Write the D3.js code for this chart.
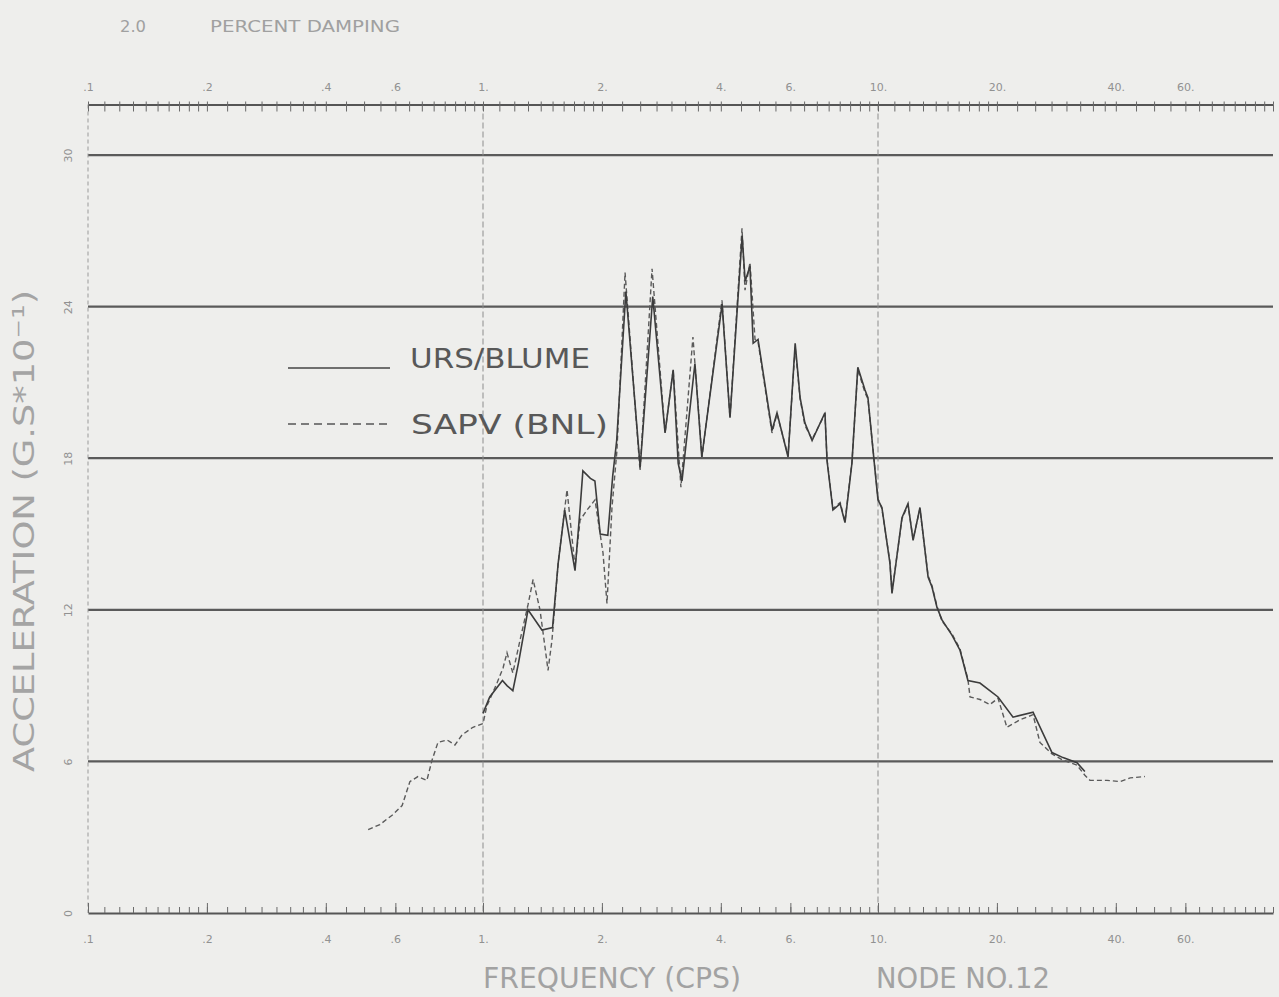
<!DOCTYPE html>
<html>
<head>
<meta charset="utf-8">
<script src="https://cdn.jsdelivr.net/npm/d3@7"></script>
<style>
  html, body { margin: 0; padding: 0; background: #eeeeec; }
  svg { display: block; }
  text { font-family: "DejaVu Sans", "Liberation Sans", sans-serif; }
</style>
</head>
<body>
<svg id="chart" width="1279" height="997"></svg>
<script>
// Response spectrum, 2.0 percent damping, node no. 12
// [frequency (cps), acceleration (g * 10^-1)]
const ursBlume = [
  [1.00, 7.9], [1.04, 8.55], [1.12, 9.2], [1.15, 9.0], [1.19, 8.8], [1.23, 9.9],
  [1.30, 12.0], [1.41, 11.2], [1.50, 11.3], [1.55, 13.85], [1.61, 15.95], [1.71, 13.55],
  [1.76, 15.95], [1.79, 17.5], [1.87, 17.2], [1.92, 17.1], [1.98, 15.0], [2.07, 14.95],
  [2.13, 17.3], [2.18, 18.7], [2.30, 24.6], [2.50, 17.65], [2.69, 24.4], [2.89, 19.0],
  [3.03, 21.5], [3.12, 17.8], [3.19, 17.1], [3.44, 21.75], [3.58, 18.05], [4.03, 24.1],
  [4.22, 19.6], [4.53, 26.8], [4.61, 25.0], [4.74, 25.6], [4.83, 22.55], [4.97, 22.7],
  [5.39, 19.1], [5.55, 19.8], [5.92, 18.05], [6.17, 22.55], [6.35, 20.4], [6.53, 19.4],
  [6.81, 18.7], [7.34, 19.8], [7.43, 17.9], [7.69, 15.95], [8.02, 16.2], [8.25, 15.45],
  [8.59, 17.8], [8.89, 21.6], [9.27, 20.7], [9.43, 20.4], [9.83, 17.5], [10.0, 16.35],
  [10.23, 16.05], [10.72, 13.85], [10.85, 12.65], [11.5, 15.65], [11.91, 16.2], [12.27, 14.75],
  [12.77, 16.05], [13.39, 13.3], [13.7, 12.9], [14.1, 12.1], [14.52, 11.6], [15.39, 11.0],
  [16.13, 10.4], [16.89, 9.2], [18.12, 9.1], [20.13, 8.55], [21.97, 7.75], [24.69, 7.95],
  [27.57, 6.35], [29.4, 6.15], [31.9, 5.95], [33.4, 5.6]
];

const sapvBnl = [
  [0.512, 3.3], [0.548, 3.5], [0.592, 3.9], [0.624, 4.25], [0.653, 5.2], [0.684, 5.4],
  [0.721, 5.25], [0.743, 6.05], [0.769, 6.75], [0.811, 6.85], [0.849, 6.65], [0.885, 7.05],
  [0.943, 7.35], [1.0, 7.5], [1.023, 8.2], [1.085, 9.1], [1.124, 9.7], [1.15, 10.3],
  [1.19, 9.5], [1.241, 10.8], [1.30, 12.2], [1.339, 13.2], [1.394, 12.0], [1.436, 10.5],
  [1.461, 9.6], [1.495, 10.8], [1.549, 13.8], [1.632, 16.75], [1.71, 13.7], [1.761, 15.55],
  [1.834, 15.95], [1.921, 16.35], [2.013, 14.25], [2.06, 12.25], [2.121, 16.05], [2.183, 18.3],
  [2.289, 25.35], [2.498, 17.5], [2.679, 25.5], [2.89, 19.0], [3.03, 21.5], [3.17, 16.85],
  [3.40, 22.8], [3.584, 18.05], [4.027, 24.25], [4.22, 19.6], [4.526, 27.1], [4.606, 24.65],
  [4.742, 25.75], [4.883, 22.7], [4.97, 22.6], [5.39, 19.0], [5.55, 19.75], [5.92, 18.1],
  [6.17, 22.4], [6.35, 20.35], [6.53, 19.3], [6.81, 18.75], [7.34, 19.75], [7.43, 17.95],
  [7.69, 16.0], [8.02, 16.25], [8.25, 15.5], [8.59, 17.85], [8.89, 21.5], [9.27, 20.6],
  [9.43, 20.35], [9.83, 17.55], [10.0, 16.4], [10.23, 16.0], [10.72, 13.9], [10.85, 12.7],
  [11.5, 15.6], [11.91, 16.15], [12.27, 14.8], [12.77, 16.0], [13.39, 13.35], [13.7, 12.95],
  [14.1, 12.15], [14.52, 11.55], [15.39, 11.05], [16.13, 10.45], [16.89, 9.25], [17.1, 8.55],
  [18.12, 8.45], [19.2, 8.25], [20.13, 8.5], [21.2, 7.35], [22.9, 7.65], [24.69, 7.85],
  [25.7, 6.75], [27.57, 6.3], [29.4, 6.05], [31.9, 5.85], [33.4, 5.45], [34.4, 5.25],
  [38.0, 5.25], [41.0, 5.2], [43.5, 5.35], [47.4, 5.4]
];

const freqLabelValues = [0.1, 0.2, 0.4, 0.6, 1, 2, 4, 6, 10, 20, 40, 60];
const freqLabels = [".1", ".2", ".4", ".6", "1.", "2.", "4.", "6.", "10.", "20.", "40.", "60."];
const accTicks = [0, 6, 12, 18, 24, 30];
const accGrid = [6, 12, 18, 24, 30];
const seriesNames = ["URS/BLUME", "SAPV (BNL)"];

const svg = d3.select("#chart");

const x = d3.scaleLog().domain([0.1, 100]).range([88, 1273]);
const y = d3.scaleLinear().domain([0, 32]).range([913, 104.5]);

// fine log-cycle tick marks along the frequency axes
const minorTicks = [];
[0.1, 1, 10].forEach(d => {
  for (let m = 1; m < 2; m += 0.1) minorTicks.push(+(d * m).toFixed(4));
  for (let m = 2; m < 4; m += 0.25) minorTicks.push(+(d * m).toFixed(4));
  for (let m = 4; m < 10; m += 0.5) minorTicks.push(+(d * m).toFixed(4));
});
minorTicks.push(100);

const labelFmt = v => freqLabels[freqLabelValues.indexOf(v)];

// horizontal grid lines
svg.append("g")
  .selectAll("line")
  .data(accGrid)
  .join("line")
  .attr("x1", x(0.1)).attr("x2", x(100))
  .attr("y1", d => y(d)).attr("y2", d => y(d))
  .attr("stroke", "#5a5a5a").attr("stroke-width", 2.2);

// vertical grid at 1 and 10 cps
svg.append("g")
  .selectAll("line")
  .data([1, 10])
  .join("line")
  .attr("x1", d => x(d)).attr("x2", d => x(d))
  .attr("y1", y(32)).attr("y2", y(0))
  .attr("stroke", "#8c8c8c").attr("stroke-width", 1)
  .attr("stroke-dasharray", "6,3");

// left frame edge
svg.append("line")
  .attr("x1", x(0.1)).attr("x2", x(0.1))
  .attr("y1", y(32)).attr("y2", y(0))
  .attr("stroke", "#9a9a9a").attr("stroke-width", 1)
  .attr("stroke-dasharray", "4,3");

function styleAxis(g) {
  g.selectAll(".domain").attr("stroke", "#555").attr("stroke-width", 2);
  g.selectAll(".tick line").attr("stroke", "#6a6a6a").attr("stroke-width", 1);
}

// bottom frequency axis
const gBottom = svg.append("g").attr("transform", `translate(0,${y(0)})`);
gBottom.append("g").call(d3.axisTop(x).tickValues(minorTicks).tickSize(6).tickSizeOuter(0).tickFormat("")).call(styleAxis);
gBottom.append("g").call(d3.axisTop(x).tickValues(freqLabelValues.concat([1, 10])).tickSize(10).tickFormat("")).call(styleAxis)
  .select(".domain").remove();
gBottom.append("g").call(d3.axisBottom(x).tickValues(freqLabelValues).tickSize(0).tickPadding(22).tickFormat(labelFmt))
  .call(g => g.select(".domain").remove())
  .call(g => g.selectAll("text").attr("fill", "#919191").attr("font-size", 11));

// top frequency axis
const gTop = svg.append("g").attr("transform", `translate(0,${y(32)})`);
gTop.append("g").call(d3.axisBottom(x).tickValues(minorTicks).tickSize(7).tickSizeOuter(0).tickFormat("")).call(styleAxis);
gTop.append("g").call(d3.axisTop(x).tickValues(minorTicks).tickSize(3).tickFormat("")).call(styleAxis)
  .select(".domain").remove();
gTop.append("g").call(d3.axisTop(x).tickValues(freqLabelValues).tickSize(0).tickPadding(14).tickFormat(labelFmt))
  .call(g => g.select(".domain").remove())
  .call(g => g.selectAll("text").attr("fill", "#919191").attr("font-size", 11));

// acceleration axis labels, written vertically
const gLeft = svg.append("g").attr("transform", `translate(${x(0.1)},0)`);
gLeft.call(d3.axisLeft(y).tickValues(accTicks).tickSize(0).tickFormat(d3.format("d")))
  .call(g => g.select(".domain").remove())
  .call(g => g.selectAll("text")
    .attr("transform", "rotate(-90)")
    .attr("x", 0)
    .attr("y", -16).attr("dy", 0)
    .attr("text-anchor", "middle")
    .attr("fill", "#919191").attr("font-size", 11));

// spectrum curves
const line = d3.line().x(d => x(d[0])).y(d => y(d[1]));

svg.append("path")
  .datum(sapvBnl)
  .attr("d", line)
  .attr("fill", "none")
  .attr("stroke", "#5a5a5a")
  .attr("stroke-width", 1.4)
  .attr("stroke-dasharray", "5,3");

svg.append("path")
  .datum(ursBlume)
  .attr("d", line)
  .attr("fill", "none")
  .attr("stroke", "#3c3c3c")
  .attr("stroke-width", 1.6);

// legend
const legend = svg.append("g");
legend.append("line").attr("x1", 288).attr("x2", 390).attr("y1", 368).attr("y2", 368)
  .attr("stroke", "#444").attr("stroke-width", 1.6);
legend.append("line").attr("x1", 288).attr("x2", 388).attr("y1", 424).attr("y2", 424)
  .attr("stroke", "#555").attr("stroke-width", 1.6).attr("stroke-dasharray", "8,5");
legend.append("text").attr("x", 410).attr("y", 368).text(seriesNames[0])
  .attr("font-size", 27).attr("fill", "#585858")
  .attr("textLength", 180).attr("lengthAdjust", "spacingAndGlyphs");
legend.append("text").attr("x", 411).attr("y", 434).text(seriesNames[1])
  .attr("font-size", 27).attr("fill", "#585858")
  .attr("textLength", 197).attr("lengthAdjust", "spacingAndGlyphs");

// titles
svg.append("text").attr("x", 120).attr("y", 32).text("2.0")
  .attr("font-size", 16).attr("fill", "#a0a0a0")
  .attr("textLength", 26).attr("lengthAdjust", "spacingAndGlyphs");
svg.append("text").attr("x", 210).attr("y", 32).text("PERCENT DAMPING")
  .attr("font-size", 16).attr("fill", "#a0a0a0")
  .attr("textLength", 190).attr("lengthAdjust", "spacingAndGlyphs");

svg.append("text").attr("x", 483).attr("y", 988).text("FREQUENCY (CPS)")
  .attr("font-size", 29).attr("fill", "#a2a2a2")
  .attr("textLength", 258).attr("lengthAdjust", "spacingAndGlyphs");
svg.append("text").attr("x", 876).attr("y", 988).text("NODE NO.12")
  .attr("font-size", 29).attr("fill", "#a2a2a2")
  .attr("textLength", 174).attr("lengthAdjust", "spacingAndGlyphs");

svg.append("text")
  .attr("transform", "translate(34,772) rotate(-90)")
  .text("ACCELERATION (G.S*10⁻¹)")
  .attr("font-size", 29).attr("fill", "#a4a4a4")
  .attr("textLength", 482).attr("lengthAdjust", "spacingAndGlyphs");
</script>
</body>
</html>
